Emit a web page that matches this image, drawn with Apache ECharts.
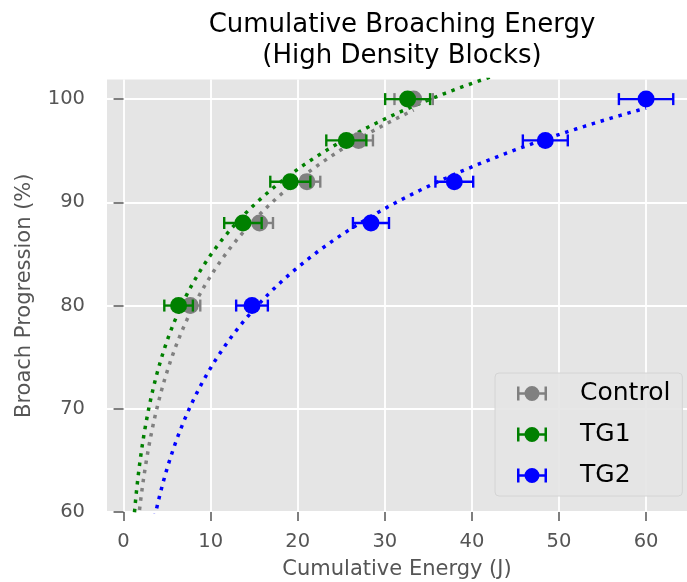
<!DOCTYPE html>
<html>
<head>
<meta charset="utf-8">
<script src="https://cdn.jsdelivr.net/npm/echarts@6/dist/echarts.min.js"></script>
<style>
html,body{margin:0;padding:0;background:#fff}
#main{width:687px;height:582px}
</style>
</head>
<body>
<div id="main"></div>
<script>
// data
var progress = [80, 88, 92, 96, 100]
var controlX = [7.66, 15.62, 21.06, 26.99, 33.31]
var controlErr = [1.15, 1.54, 1.53, 1.65, 2.2]
var tg1X = [6.32, 13.71, 19.15, 25.58, 32.62]
var tg1Err = [1.64, 2.15, 2.3, 2.3, 2.58]
var tg2X = [14.75, 28.41, 37.98, 48.43, 60.0]
var tg2Err = [1.82, 2.07, 2.17, 2.58, 3.12]
var xTicks = [0, 10, 20, 30, 40, 50, 60]
var yTicks = [60, 70, 80, 90, 100]
// x range of each fitted curve
var controlRange = [1, 33.31]
var tg1Range = [1, 45]
var tg2Range = [1, 60]

var font = 'DejaVu Sans'
var chart = echarts.init(document.getElementById('main'))

// least squares fit y = a*ln(x) + b
function logFit(xs, ys){
	var n = xs.length, mx = 0, my = 0, sxy = 0, sxx = 0
	for(var i = 0; i < n; i++){ mx += Math.log(xs[i]); my += ys[i] }
	mx /= n; my /= n
	for(var i = 0; i < n; i++){
		var dx = Math.log(xs[i]) - mx
		sxy += dx * (ys[i] - my)
		sxx += dx * dx
	}
	var a = sxy / sxx
	return {a: a, b: my - a * mx}
}
function fitCurve(xs, ys, range){
	var f = logFit(xs, ys), pts = []
	for(var k = 0; k <= 200; k++){
		var x = range[0] + (range[1] - range[0]) * k / 200
		pts.push([x, f.a * Math.log(x) + f.b])
	}
	return pts
}
function errData(xs, errs){
	return xs.map(function(x, i){ return [x - errs[i], progress[i], x + errs[i]] })
}
function pointData(xs){
	return xs.map(function(x, i){ return [x, progress[i]] })
}
function errRender(color){
	return function(params, api){
		var y = api.value(1)
		var lo = api.coord([api.value(0), y])
		var hi = api.coord([api.value(2), y])
		var h = 6
		var st = {stroke: color, lineWidth: 2.4}
		return {type: 'group', children: [
			{type: 'line', shape: {x1: lo[0], y1: lo[1], x2: hi[0], y2: hi[1]}, style: st},
			{type: 'line', shape: {x1: lo[0], y1: lo[1] - h, x2: lo[0], y2: lo[1] + h}, style: st},
			{type: 'line', shape: {x1: hi[0], y1: hi[1] - h, x2: hi[0], y2: hi[1] + h}, style: st}
		]}
	}
}

var icon = 'path://M0,1h2.5v14h-2.5z M27.5,1h2.5v14h-2.5z M0,6.8h30v2.4h-30z M7.5,8a7.5,7.5 0 1,1 15,0a7.5,7.5 0 1,1 -15,0z'

var groups = [
	{name: 'Control', color: '#808080', xs: controlX, errs: controlErr, range: controlRange},
	{name: 'TG1', color: '#008000', xs: tg1X, errs: tg1Err, range: tg1Range},
	{name: 'TG2', color: '#0000ff', xs: tg2X, errs: tg2Err, range: tg2Range}
]

var series = []
groups.forEach(function(g, k){
	series.push({
		name: g.name + ' fit', type: 'line', data: fitCurve(g.xs, progress, g.range),
		showSymbol: false, clip: true, z: 1, silent: true,
		lineStyle: {color: g.color, width: 3.5, type: [3.5, 5.8], cap: 'butt'}
	})
})
groups.forEach(function(g, k){
	series.push({
		name: g.name + ' err', type: 'custom', data: errData(g.xs, g.errs),
		renderItem: errRender(g.color), encode: {x: [0, 2], y: 1}, z: 2 + k * 2, silent: true
	})
	series.push({
		name: g.name, type: 'scatter', data: pointData(g.xs), symbolSize: 17,
		itemStyle: {color: g.color, opacity: 1}, z: 3 + k * 2
	})
})

chart.setOption({
	animation: false,
	title: {
		text: 'Cumulative Broaching Energy\n(High Density Blocks)',
		left: 397, top: 5, textAlign: 'center',
		textStyle: {fontSize: 26, fontWeight: 'normal', color: '#000', lineHeight: 31, fontFamily: font}
	},
	grid: {
		left: 107, top: 79.5, right: 0, bottom: 70, outerBoundsMode: 'none',
		show: true, backgroundColor: '#e5e5e5', borderWidth: 0
	},
	legend: {
		orient: 'vertical', left: 495, top: 373,
		padding: [8, 12, 8, 22], itemGap: 16, itemWidth: 30, itemHeight: 16,
		backgroundColor: 'rgba(229,229,229,0.92)', borderColor: '#d4d4d4', borderWidth: 1, borderRadius: 4,
		textStyle: {fontSize: 25, color: '#000', fontFamily: font, padding: [0, 0, 0, 28]},
		data: [
			{name: 'Control', icon: icon},
			{name: 'TG1', icon: icon},
			{name: 'TG2', icon: icon}
		]
	},
	xAxis: {
		type: 'value', min: -1.9, max: 64.7,
		axisLine: {show: false},
		axisTick: {show: true, customValues: xTicks, length: 9, lineStyle: {color: '#555', width: 1.5}},
		axisLabel: {customValues: xTicks, color: '#555', fontSize: 19.5, margin: 20, fontFamily: font},
		splitLine: {show: true, lineStyle: {color: '#fff', width: 1.8}},
		name: 'Cumulative Energy (J)', nameLocation: 'middle', nameGap: 47,
		nameTextStyle: {color: '#555', fontSize: 21, fontFamily: font}
	},
	yAxis: {
		type: 'value', min: 60, max: 101.9,
		axisLine: {show: false},
		axisTick: {show: true, customValues: yTicks, length: 10, lineStyle: {color: '#555', width: 1.5}},
		axisLabel: {customValues: yTicks, color: '#555', fontSize: 19.5, margin: 22, fontFamily: font},
		splitLine: {show: true, lineStyle: {color: '#fff', width: 1.8}},
		name: 'Broach Progression (%)', nameLocation: 'middle', nameGap: 72,
		nameTextStyle: {color: '#555', fontSize: 21, fontFamily: font}
	},
	series: series
})
</script>
</body>
</html>
